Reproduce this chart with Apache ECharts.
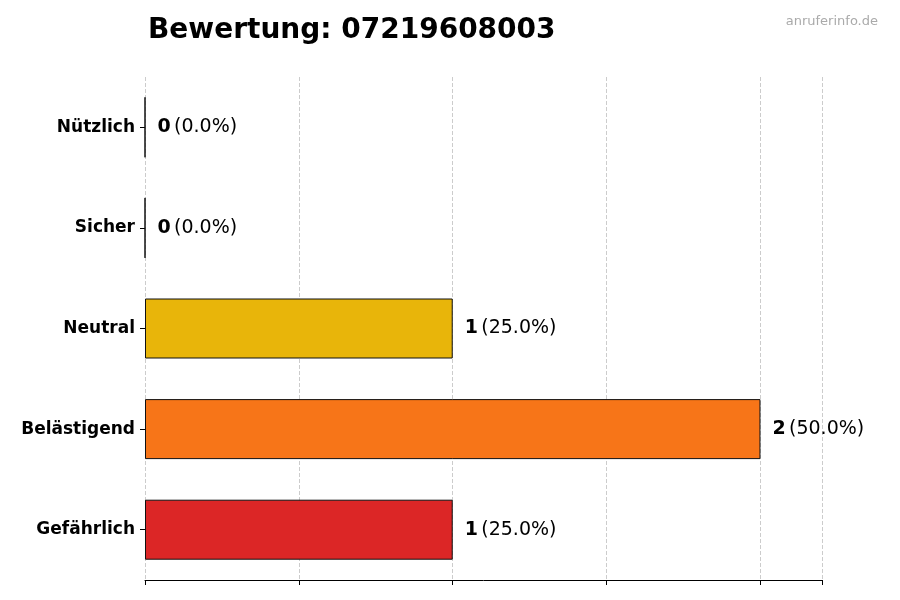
<!DOCTYPE html>
<html><head><meta charset="utf-8">
<script src="https://cdn.jsdelivr.net/npm/echarts@6/dist/echarts.min.js"></script>
<style>html,body{margin:0;padding:0;background:#fff}#c{width:900px;height:600px}</style>
</head><body><div id="c"></div>
<script>
const categories = ['Nützlich','Sicher','Neutral','Belästigend','Gefährlich'];
const values = [0,0,1,2,1];
const percents = ['0.0%','0.0%','25.0%','50.0%','25.0%'];
const colors = ['#16A34A','#2563EB','#E8B50A','#F77518','#DC2626'];
const chart = echarts.init(document.getElementById('c'));
chart.setOption({
  animation:false,
  title:[{text:'Bewertung: 07219608003',left:143,top:12,textStyle:{fontFamily:'DejaVu Sans',fontSize:28,fontWeight:'bold',color:'#000'}},
         {text:'anruferinfo.de',right:17,top:10,textStyle:{fontFamily:'DejaVu Sans',fontSize:13,fontWeight:'normal',color:'#aaa'}}],
  grid:{left:145,right:78,top:77,bottom:20},
  xAxis:{type:'value',min:0,max:2.2,interval:0.5,
    axisLabel:{show:false},
    axisLine:{show:true,lineStyle:{color:'#000'}},
    axisTick:{show:true,length:5,lineStyle:{color:'#000'}},
    splitLine:{show:true,lineStyle:{type:'dashed',color:'#ccc'}}},
  yAxis:{type:'category',data:categories,inverse:true,
    axisLine:{show:false},
    axisTick:{show:true,alignWithLabel:true,length:5,lineStyle:{color:'#000'}},
    axisLabel:{fontFamily:'DejaVu Sans',fontSize:17,fontWeight:'bold',color:'#000',margin:10}},
  series:[{type:'bar',barWidth:60,
    data:values.map((v,i)=>({value:v,itemStyle:{color:colors[i]}})),
    itemStyle:{borderColor:'#111',borderWidth:1},
    label:{show:true,position:'right',distance:12,
      formatter:p=>'{b|'+p.value+'} {n|('+percents[p.dataIndex]+')}',
      rich:{b:{fontFamily:'DejaVu Sans',fontSize:19,fontWeight:'bold',color:'#000'},
            n:{fontFamily:'DejaVu Sans',fontSize:19,color:'#000'}}}}]
});
</script></body></html>
